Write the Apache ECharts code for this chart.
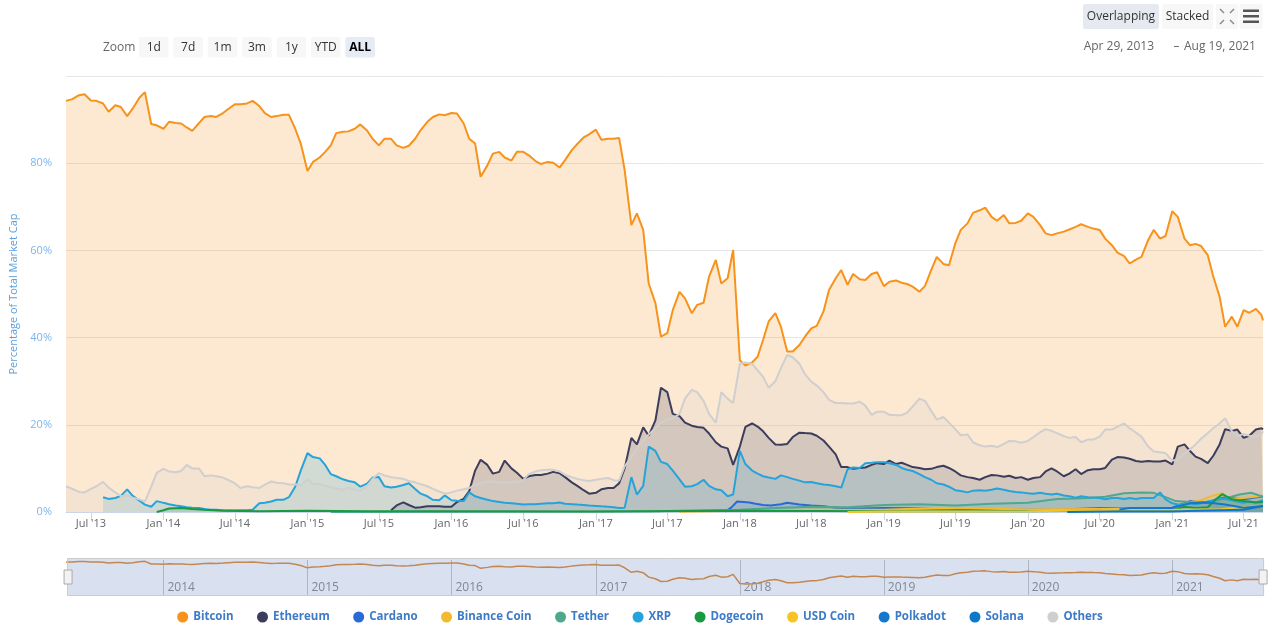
<!DOCTYPE html>
<html>
<head>
<meta charset="utf-8">
<title>Market cap dominance</title>
<script src="https://cdn.jsdelivr.net/npm/echarts@6/dist/echarts.min.js"></script>
<style>
  html, body { margin: 0; padding: 0; background: #fff; }
  #chart { width: 1280px; height: 626px; }
</style>
</head>
<body>
<div id="chart"></div>
<script>
// sample dates: 1st and 15th of every month, May 2013 .. Aug 2021, last point Aug 19
var dates = [];
for (var y = 2013; y <= 2021; y++) {
  for (var m = 1; m <= 12; m++) {
    if (y === 2013 && m < 5) continue;
    if (y === 2021 && m > 8) continue;
    var mm = (m < 10 ? '0' : '') + m;
    dates.push(y + '-' + mm + '-01', y + '-' + mm + '-15');
  }
}
dates[0] = '2013-04-29';
dates.push('2021-08-19');

function lead(n, arr) {            // n empty slots before a coin existed
  var out = [];
  for (var i = 0; i < n; i++) out.push(null);
  return out.concat(arr);
}

var bitcoin = [
  94.3, 94.7, 95.6, 95.8, 94.4, 94.3, 93.7, 91.8, 93.3, 92.9, 90.8,
  92.5, 95.0, 96.3, 89.0, 88.7, 87.9, 89.5, 89.2, 89.1, 88.2,
  87.4, 89.2, 90.6, 90.8, 90.6, 91.5, 92.5, 93.5, 93.5, 93.7,
  94.3, 93.1, 91.5, 90.6, 90.8, 91.1, 91.1, 87.9, 84.5, 78.2,
  80.3, 81.3, 82.6, 84.1, 86.9, 87.2, 87.3, 87.9, 88.9, 87.5,
  85.6, 84.1, 85.6, 85.6, 84.1, 83.5, 84.0, 85.6, 87.6, 89.5,
  90.6, 91.2, 91.0, 91.5, 91.4, 89.1, 85.6, 84.5, 76.9, 79.5,
  82.2, 82.6, 81.3, 80.6, 82.6, 82.6, 81.8, 80.5, 79.8, 80.3,
  80.1, 79.0, 80.7, 83.0, 84.4, 85.9, 86.6, 87.7, 85.4, 85.6,
  85.6, 85.8, 78.4, 65.8, 68.5, 64.7, 52.4, 47.9, 40.2, 41.0,
  46.3, 50.5, 49.0, 45.6, 47.5, 48.0, 54.0, 57.8, 52.4, 53.6,
  60.1, 34.8, 33.6, 34.3, 35.6, 39.5, 43.7, 45.6, 42.5, 36.8,
  36.8, 38.3, 40.2, 42.1, 42.7, 46.0, 50.9, 53.6, 55.5, 52.1,
  54.6, 53.4, 53.2, 54.6, 55.0, 51.8, 52.8, 53.1, 52.6, 52.3,
  51.7, 50.5, 51.8, 55.5, 58.5, 56.9, 56.6, 61.6, 64.7, 66.2,
  68.6, 69.2, 69.8, 67.7, 66.8, 68.1, 66.2, 66.3, 66.8, 68.5,
  67.7, 65.8, 63.9, 63.5, 63.9, 64.3, 64.8, 65.4, 66.0, 65.4,
  65.0, 64.7, 62.7, 61.2, 59.5, 58.7, 57.0, 57.9, 58.5, 62.4,
  64.7, 62.7, 63.3, 69.0, 67.7, 62.7, 61.2, 61.5, 61.0, 58.9,
  54.0, 49.4, 42.5, 44.8, 42.5, 46.3, 45.7, 46.6, 45.2, 43.9
];

var ethereum = lead(54, [
  0.4,
  1.5, 2.2, 1.6, 1.0, 1.1, 1.3,
  1.3, 1.3, 1.2, 1.2, 2.3, 3.0, 4.8, 9.5, 12.0, 10.8,
  8.8, 9.2, 11.8, 10.0, 9.0, 7.6, 8.2, 8.5, 8.5, 8.8,
  9.2, 8.9, 8.0, 6.8, 6.0, 5.0, 4.2, 4.4, 5.2, 5.5,
  5.5, 6.6, 10.0, 17.0, 15.5, 19.4, 17.5, 21.0, 28.5, 27.5,
  22.5, 22.0, 20.5, 19.8, 19.5, 19.3, 18.0, 16.0, 15.0, 14.6,
  10.8, 15.0, 19.5, 20.3, 19.6, 18.5, 17.0, 15.5, 15.4, 15.6,
  17.2, 18.2, 18.1, 18.0, 17.5, 16.4, 15.0, 13.2, 10.3, 10.3,
  9.9, 10.1, 10.2, 10.8, 11.2, 11.0, 11.8, 11.0, 11.3, 10.8,
  10.3, 10.1, 9.8, 9.9, 10.3, 10.6, 10.1, 9.3, 8.4, 8.0,
  7.8, 7.4, 8.0, 8.5, 8.4, 8.1, 8.3, 7.8, 8.0, 7.4,
  7.8, 8.0, 9.3, 10.0, 9.3, 8.2, 8.8, 9.8, 8.7, 9.6,
  9.8, 9.8, 10.1, 12.0, 12.6, 12.5, 12.2, 11.7, 11.5, 11.7,
  11.6, 11.6, 11.8, 10.9, 15.0, 15.5, 14.0, 12.7, 12.2, 11.2,
  12.9, 15.5, 19.0, 18.6, 18.9, 17.0, 17.5, 18.9, 19.2, 18.9
]);

var xrp = lead(6, [
  3.4, 3.0, 3.2, 3.7, 5.2,
  3.7, 2.6, 1.7, 1.2, 2.5, 2.1, 1.8, 1.5, 1.3, 1.1,
  1.0, 0.9, 0.7, 0.5, 0.5, 0.4, 0.4, 0.4, 0.4, 0.4,
  0.5, 2.0, 2.1, 2.4, 2.8, 2.8, 3.4, 5.8, 9.5, 13.5,
  12.6, 12.3, 10.8, 8.7, 8.2, 7.5, 7.1, 6.8, 5.8, 6.5,
  7.9, 8.0, 5.9, 5.6, 5.8, 6.2, 6.6, 5.3, 4.2, 3.6,
  2.8, 2.7, 3.8, 2.7, 2.6, 2.5, 4.5, 3.6, 3.2, 2.8,
  2.5, 2.3, 2.1, 2.0, 1.9, 1.7, 1.8, 1.8, 1.9, 2.0,
  2.0, 2.2, 1.9, 1.8, 1.7, 1.6, 1.5, 1.4, 1.3, 1.2,
  1.1, 0.9, 1.0, 8.0, 4.0, 6.0, 15.0, 14.0, 11.5, 11.0,
  9.5, 7.5, 5.8, 5.9, 6.4, 7.4, 6.0, 5.2, 5.0, 3.6,
  4.0, 14.0, 11.0, 9.5, 8.8, 8.2, 7.9, 7.6, 8.4, 8.0,
  7.6, 7.2, 6.8, 6.9, 6.6, 6.3, 6.2, 5.9, 5.6, 9.8,
  10.2, 10.1, 11.2, 11.3, 11.4, 11.4, 11.2, 10.8, 10.1, 9.7,
  9.4, 8.7, 8.0, 7.4, 6.6, 6.3, 5.8, 5.0, 4.8, 4.5,
  4.9, 5.0, 4.9, 5.1, 5.4, 5.1, 4.8, 4.6, 4.5, 4.3,
  4.2, 4.4, 4.2, 4.0, 4.2, 3.8, 3.6, 3.3, 3.6, 3.4,
  3.3, 3.2, 2.9, 3.2, 3.2, 3.0, 3.2, 3.0, 3.2, 3.2,
  3.2, 4.5, 2.9, 2.0, 1.7, 1.8, 2.0, 1.7, 2.0, 2.4,
  2.7, 3.2, 3.0, 2.7, 2.4, 2.1, 2.4, 2.2, 2.6, 2.7
]);

var others = [
  5.9, 5.3, 4.6, 4.5, 5.3, 5.9, 6.9, 5.6, 4.5, 3.6, 3.8,
  3.3, 2.9, 2.4, 5.8, 9.0, 9.9, 9.3, 9.1, 9.4, 10.8,
  10.0, 10.0, 8.2, 8.4, 8.2, 7.9, 7.3, 6.6, 5.5, 5.9,
  5.7, 5.5, 6.3, 7.0, 6.7, 6.6, 6.3, 6.3, 6.2, 7.5,
  6.5, 6.4, 6.0, 5.7, 5.4, 5.1, 5.6, 5.1, 4.9, 6.0,
  7.6, 8.9, 8.4, 8.0, 7.8, 7.6, 7.1, 6.8, 6.4, 5.9,
  5.3, 4.7, 4.2, 4.5, 4.9, 5.2, 5.5, 6.2, 6.6, 7.0,
  7.0, 6.8, 6.7, 6.8, 6.8, 7.3, 8.7, 9.3, 9.6, 9.7,
  9.7, 9.3, 8.5, 8.0, 7.6, 7.3, 7.1, 7.4, 7.6, 7.8,
  7.3, 7.2, 10.5, 12.6, 14.5, 16.4, 17.8, 19.2, 20.5, 21.2,
  21.5, 22.5, 26.0, 28.0, 27.5, 25.5, 22.5, 20.5, 27.5, 26.0,
  25.0, 34.0, 34.3, 34.0, 32.5, 31.0, 28.5, 30.0, 33.0, 36.0,
  35.5, 34.0, 31.6, 29.9, 29.0, 27.5, 25.7, 25.0, 25.0, 24.9,
  24.9, 25.3, 24.4, 22.3, 23.0, 23.0, 22.3, 22.2, 22.2, 22.8,
  24.2, 26.0, 25.5, 23.2, 21.2, 21.8, 20.5, 19.0, 17.6, 17.8,
  16.0, 15.3, 15.0, 15.2, 14.9, 15.6, 16.3, 16.2, 15.9, 16.3,
  17.2, 18.3, 19.0, 18.6, 18.1, 17.4, 17.0, 17.2, 16.0, 16.6,
  16.6, 17.3, 18.9, 18.9, 19.6, 20.3, 19.2, 18.2, 17.3, 15.0,
  13.9, 13.7, 13.5, 11.8, 12.0, 13.4, 14.4, 15.5, 16.8, 18.1,
  19.2, 20.3, 21.5, 18.5, 17.4, 17.9, 17.5, 17.3, 17.8, 18.5
];

// smaller coins, [date, % of total market cap]
var cardano = [
  ['2017-11-25', 0.1], ['2017-12-10', 1.0], ['2017-12-25', 2.4], ['2018-01-10', 2.3],
  ['2018-01-25', 2.2], ['2018-02-10', 1.9], ['2018-03-01', 1.6], ['2018-03-20', 1.5],
  ['2018-04-15', 1.8], ['2018-05-01', 2.1], ['2018-06-01', 1.7], ['2018-07-01', 1.5],
  ['2018-08-01', 1.3], ['2018-09-01', 1.0], ['2018-11-01', 0.8], ['2019-01-01', 0.9],
  ['2019-06-01', 0.8], ['2019-10-01', 0.6], ['2020-01-01', 0.5], ['2020-04-01', 0.6],
  ['2020-07-01', 0.9], ['2020-10-01', 0.8], ['2021-01-01', 1.0], ['2021-02-15', 2.5],
  ['2021-04-01', 2.2], ['2021-05-15', 3.4], ['2021-07-01', 2.9], ['2021-08-19', 3.6]
];
var binanceCoin = [
  ['2017-08-01', 0.05], ['2018-01-01', 0.3], ['2018-06-01', 0.5], ['2019-01-01', 0.5],
  ['2019-06-01', 1.0], ['2019-09-01', 0.8], ['2020-01-01', 0.6], ['2020-06-01', 0.7],
  ['2020-11-01', 0.8], ['2021-01-01', 0.7], ['2021-02-15', 2.3], ['2021-03-15', 2.7],
  ['2021-04-15', 3.8], ['2021-05-08', 4.3], ['2021-05-25', 3.0], ['2021-07-01', 3.2],
  ['2021-08-19', 3.7]
];
var tether = [
  ['2015-03-01', 0.0], ['2016-01-01', 0.05], ['2017-01-01', 0.1], ['2017-06-01', 0.2],
  ['2017-10-01', 0.4], ['2018-01-01', 0.5], ['2018-04-01', 0.9], ['2018-07-01', 1.2],
  ['2018-10-01', 1.1], ['2019-01-01', 1.6], ['2019-04-01', 1.8], ['2019-07-01', 1.5],
  ['2019-10-01', 1.9], ['2020-01-01', 2.1], ['2020-03-15', 3.0], ['2020-05-01', 3.1],
  ['2020-06-01', 3.2], ['2020-07-15', 3.5], ['2020-09-01', 4.3], ['2020-10-15', 4.5],
  ['2020-11-15', 4.4], ['2020-12-15', 3.4], ['2021-01-10', 2.5], ['2021-02-15', 2.3],
  ['2021-04-01', 2.2], ['2021-05-20', 3.2], ['2021-06-20', 4.0], ['2021-07-20', 4.4],
  ['2021-08-19', 3.5]
];
var dogecoin = [
  ['2013-12-15', 0.0], ['2014-01-01', 0.4], ['2014-01-15', 0.8], ['2014-02-15', 0.9],
  ['2014-03-15', 0.7], ['2014-04-15', 0.5], ['2014-06-01', 0.3], ['2014-09-01', 0.2],
  ['2015-01-01', 0.3], ['2015-06-01', 0.2], ['2016-01-01', 0.2], ['2017-01-01', 0.1],
  ['2018-01-01', 0.3], ['2019-01-01', 0.2], ['2020-01-01', 0.2], ['2021-01-01', 0.4],
  ['2021-02-01', 1.2], ['2021-03-01', 0.9], ['2021-04-01', 1.1], ['2021-04-20', 2.8],
  ['2021-05-08', 4.1], ['2021-06-01', 2.9], ['2021-07-01', 2.5], ['2021-08-01', 2.2],
  ['2021-08-19', 2.3]
];
var usdCoin = [
  ['2018-10-01', 0.0], ['2019-01-01', 0.1], ['2020-01-01', 0.2], ['2020-07-01', 0.4],
  ['2020-09-01', 0.6], ['2021-01-01', 0.5], ['2021-03-01', 0.6], ['2021-05-01', 0.6],
  ['2021-06-15', 1.1], ['2021-08-19', 1.4]
];
var polkadot = [
  ['2020-08-20', 0.6], ['2020-09-15', 0.9], ['2020-11-01', 0.9], ['2021-01-01', 0.9],
  ['2021-02-15', 2.0], ['2021-04-01', 2.2], ['2021-05-15', 1.7], ['2021-07-01', 1.0],
  ['2021-08-19', 1.4]
];
var solana = [
  ['2020-04-10', 0.0], ['2020-08-01', 0.1], ['2021-01-01', 0.1], ['2021-03-01', 0.3],
  ['2021-05-01', 0.4], ['2021-07-01', 0.5], ['2021-08-19', 1.4]
];

var coinNames = ['Bitcoin', 'Ethereum', 'Cardano', 'Binance Coin', 'Tether', 'XRP',
                 'Dogecoin', 'USD Coin', 'Polkadot', 'Solana', 'Others'];
var coinColors = ['#f7931a', '#3c3c5d', '#2a6ad6', '#f3ba2f', '#4fa88e', '#25a3da',
                  '#1a9a40', '#f7c325', '#1478cf', '#0b79c9', '#cfcfcf'];

var tickDates = ['2013-07-01', '2014-01-01', '2014-07-01', '2015-01-01', '2015-07-01',
  '2016-01-01', '2016-07-01', '2017-01-01', '2017-07-01', '2018-01-01', '2018-07-01',
  '2019-01-01', '2019-07-01', '2020-01-01', '2020-07-01', '2021-01-01', '2021-07-01'];
var yearDates = ['2014-01-01', '2015-01-01', '2016-01-01', '2017-01-01',
  '2018-01-01', '2019-01-01', '2020-01-01', '2021-01-01'];
var rangeButtons = ['1d', '7d', '1m', '3m', '1y', 'YTD', 'ALL'];
var monthShort = ['Jan', 'Feb', 'Mar', 'Apr', 'May', 'Jun', 'Jul', 'Aug', 'Sep', 'Oct', 'Nov', 'Dec'];

function ts(s) { return new Date(s + 'T00:00:00Z').getTime(); }
function zip(vals) { return vals.map(function (v, i) { return [ts(dates[i]), v]; }); }
function pairs(list) { return list.map(function (p) { return [ts(p[0]), p[1]]; }); }

var coinData = [zip(bitcoin), zip(ethereum), pairs(cardano), pairs(binanceCoin), pairs(tether),
                zip(xrp), pairs(dogecoin), pairs(usdCoin), pairs(polkadot), pairs(solana), zip(others)];

var FONT = '"Open Sans", "DejaVu Sans", sans-serif';
var T0 = ts('2013-04-29'), T1 = ts('2021-08-19');

var series = coinNames.map(function (name, k) {
  return {
    name: name,
    type: 'line',
    xAxisIndex: 0,
    yAxisIndex: 0,
    data: coinData[k],
    showSymbol: false,
    symbol: 'circle',
    lineStyle: { width: 2, color: coinColors[k] },
    itemStyle: { color: coinColors[k] },
    areaStyle: { color: coinColors[k], opacity: 0.2 },
    emphasis: { disabled: true }
  };
});
// navigator line
series.push({
  name: 'nav',
  type: 'line',
  xAxisIndex: 1,
  yAxisIndex: 1,
  data: zip(bitcoin),
  showSymbol: false,
  lineStyle: { width: 1.5, color: '#e08a2a' },
  silent: true
});

// top-bar widgets
var graphics = [
  { type: 'text', x: 103, y: 47.5, style: { text: 'Zoom', fill: '#666', verticalAlign: 'middle', font: '12px ' + FONT } }
];
rangeButtons.forEach(function (b, k) {
  var x = 139 + 34.4 * k, sel = b === 'ALL';
  graphics.push({ type: 'rect', shape: { x: x, y: 37, width: 29.5, height: 20.5, r: 2 },
    style: { fill: sel ? '#e6ebf5' : '#f7f7f7' } });
  graphics.push({ type: 'text', x: x + 14.75, y: 47.5,
    style: { text: b, fill: sel ? '#000' : '#333', align: 'center', verticalAlign: 'middle',
      font: (sel ? 'bold ' : '') + '12px ' + FONT } });
});
graphics.push(
  { type: 'rect', shape: { x: 1083, y: 4, width: 76, height: 25, r: 2 }, style: { fill: '#e6e9ef' } },
  { type: 'text', x: 1121, y: 16.5, style: { text: 'Overlapping', fill: '#333', align: 'center', verticalAlign: 'middle', font: '12px ' + FONT } },
  { type: 'rect', shape: { x: 1162, y: 4, width: 51, height: 25, r: 2 }, style: { fill: '#f7f7f7' } },
  { type: 'text', x: 1187.5, y: 16.5, style: { text: 'Stacked', fill: '#333', align: 'center', verticalAlign: 'middle', font: '12px ' + FONT } },
  { type: 'rect', shape: { x: 1216, y: 4, width: 22, height: 25, r: 2 }, style: { fill: '#f7f7f7' } },
  { type: 'polyline', shape: { points: [[1220, 9], [1224, 13]] }, style: { stroke: '#888', lineWidth: 1.5 } },
  { type: 'polyline', shape: { points: [[1234, 9], [1230, 13]] }, style: { stroke: '#888', lineWidth: 1.5 } },
  { type: 'polyline', shape: { points: [[1220, 24], [1224, 20]] }, style: { stroke: '#888', lineWidth: 1.5 } },
  { type: 'polyline', shape: { points: [[1234, 24], [1230, 20]] }, style: { stroke: '#888', lineWidth: 1.5 } },
  { type: 'rect', shape: { x: 1239.5, y: 4, width: 23, height: 25, r: 2 }, style: { fill: '#f7f7f7' } },
  { type: 'rect', shape: { x: 1243, y: 9.5, width: 16, height: 2.5 }, style: { fill: '#555' } },
  { type: 'rect', shape: { x: 1243, y: 15, width: 16, height: 2.5 }, style: { fill: '#555' } },
  { type: 'rect', shape: { x: 1243, y: 20.5, width: 16, height: 2.5 }, style: { fill: '#555' } },
  { type: 'text', x: 1154, y: 46.5, style: { text: 'Apr 29, 2013', fill: '#666', align: 'right', verticalAlign: 'middle', font: '12px ' + FONT } },
  { type: 'text', x: 1176.5, y: 46.5, style: { text: '–', fill: '#666', align: 'center', verticalAlign: 'middle', font: '12px ' + FONT } },
  { type: 'text', x: 1184, y: 46.5, style: { text: 'Aug 19, 2021', fill: '#666', align: 'left', verticalAlign: 'middle', font: '12px ' + FONT } }
);

var option = {
  backgroundColor: '#fff',
  animation: false,
  textStyle: { fontFamily: FONT },
  grid: [
    { left: 66, right: 17, top: 76, bottom: 114 },
    { left: 66, right: 17, top: 560, height: 36 }
  ],
  xAxis: [{
    type: 'value',
    gridIndex: 0,
    min: T0,
    max: T1,
    axisLine: { lineStyle: { color: '#ccd6eb' } },
    axisTick: { show: true, customValues: tickDates.map(ts), length: 8, lineStyle: { color: '#ccd6eb' } },
    axisLabel: {
      customValues: tickDates.map(ts),
      color: '#666',
      fontSize: 11,
      margin: 6,
      formatter: function (v) {
        var d = new Date(v);
        return monthShort[d.getUTCMonth()] + " '" + String(d.getUTCFullYear()).slice(2);
      }
    },
    splitLine: { show: false }
  }, {
    type: 'value',
    gridIndex: 1,
    min: T0,
    max: T1,
    axisLine: { show: false },
    axisTick: { show: true, inside: true, length: 36, customValues: yearDates.map(ts), lineStyle: { color: '#c4c4c4' } },
    axisLabel: {
      inside: true,
      customValues: yearDates.map(ts),
      align: 'left',
      padding: [0, 0, 0, 4],
      margin: 2,
      color: '#888',
      fontSize: 12,
      formatter: function (v) { return String(new Date(v).getUTCFullYear()); }
    },
    splitLine: { show: false }
  }],
  yAxis: [{
    type: 'value',
    gridIndex: 0,
    min: 0,
    max: 100,
    interval: 20,
    name: 'Percentage of Total Market Cap',
    nameLocation: 'middle',
    nameGap: 44,
    nameTextStyle: { color: '#5b9fdc', fontSize: 11 },
    axisLine: { show: false },
    axisTick: { show: false },
    axisLabel: {
      color: '#7cb5ec',
      fontSize: 11,
      margin: 14,
      formatter: function (v) { return v === 100 ? '' : v + '%'; }
    },
    splitLine: { lineStyle: { color: '#e6e6e6' } }
  }, {
    type: 'value',
    gridIndex: 1,
    min: 0,
    max: 100,
    show: false
  }],
  dataZoom: [{
    type: 'slider',
    xAxisIndex: 0,
    start: 0,
    end: 100,
    left: 66,
    right: 17,
    top: 558,
    height: 38,
    showDataShadow: false,
    showDetail: false,
    brushSelect: false,
    backgroundColor: 'rgba(0,0,0,0)',
    borderColor: '#cccccc',
    fillerColor: 'rgba(102,133,194,0.25)',
    handleIcon: 'path://M-4,-7 L4,-7 L4,7 L-4,7 Z',
    handleSize: 14,
    handleStyle: { color: '#f2f2f2', borderColor: '#aaa', borderWidth: 1 }
  }],
  legend: {
    data: coinNames,
    left: 'center',
    top: 611,
    padding: [0, 5],
    icon: 'circle',
    itemWidth: 11,
    itemHeight: 11,
    itemGap: 23.5,
    textStyle: { color: '#3d7bc8', fontSize: 11.5, fontWeight: 'bold' }
  },
  graphic: graphics,
  series: series
};

var chart = echarts.init(document.getElementById('chart'));
chart.setOption(option);
</script>
</body>
</html>
